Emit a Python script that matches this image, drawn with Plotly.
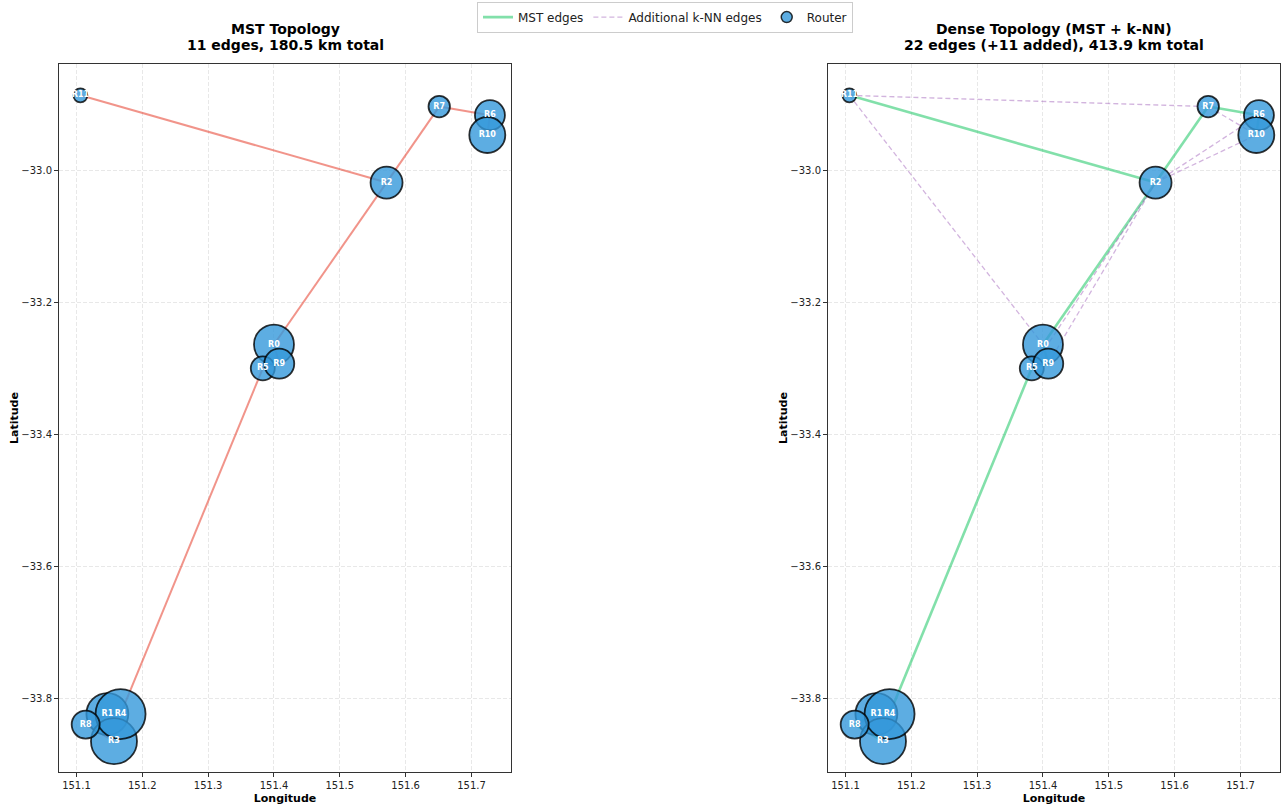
import math
import plotly.graph_objects as go

# Router sites (longitude / latitude) and relative load per router
router_names = ["R0", "R1", "R2", "R3", "R4", "R5", "R6", "R7", "R8", "R9", "R10", "R11"]
router_lon = [151.400, 151.147, 151.571, 151.157, 151.167, 151.383, 151.728, 151.651,
              151.114, 151.408, 151.724, 151.106]
router_lat = [-33.264, -33.823, -33.019, -33.864, -33.823, -33.300, -32.917, -32.904,
              -33.839, -33.293, -32.947, -32.887]
router_load = [400, 440, 256, 530, 625, 144, 225, 115, 196, 225, 324, 49]

# Minimum spanning tree edges (router index pairs)
mst_edges = [(1, 4), (5, 9), (6, 10), (0, 9), (1, 8), (3, 8), (7, 6), (2, 7), (0, 2),
             (11, 2), (5, 4)]
# Extra edges added by the k-nearest-neighbour pass
knn_edges = [(0, 5), (1, 3), (2, 10), (2, 6), (3, 4), (4, 8), (5, 2), (7, 10), (9, 2),
             (11, 7), (11, 0)]

mst_title = ["MST Topology", "11 edges, 180.5 km total"]
dense_title = ["Dense Topology (MST + k-NN)", "22 edges (+11 added), 413.9 km total"]

FONT = "DejaVu Sans"
X_RANGE = [151.0735, 151.760]
Y_RANGE = [-33.9107, -32.8396]
FIG_W, FIG_H = 1285, 810

NODE_FILL = "rgba(52,152,219,0.8)"
NODE_EDGE = "rgba(0,0,0,0.8)"


def edge_xy(edges):
    xs, ys = [], []
    for a, b in edges:
        xs += [router_lon[a], router_lon[b], None]
        ys += [router_lat[a], router_lat[b], None]
    return xs, ys


fig = go.Figure()


def add_edges(edges, axis, name, color, width, dash, show):
    xs, ys = edge_xy(edges)
    fig.add_trace(go.Scatter(
        x=xs, y=ys, mode="lines", name=name, showlegend=show,
        line=dict(color=color, width=width, dash=dash),
        xaxis="x" + axis, yaxis="y" + axis, hoverinfo="skip"))


def add_routers(axis):
    # one marker per router so later routers overlap earlier ones
    for i, name in enumerate(router_names):
        diam = 2 * math.sqrt(router_load[i])
        fig.add_trace(go.Scatter(
            x=[router_lon[i]], y=[router_lat[i]], mode="markers",
            name=name, showlegend=False,
            marker=dict(size=diam, color=NODE_FILL,
                        line=dict(color=NODE_EDGE, width=1.8)),
            xaxis="x" + axis, yaxis="y" + axis))
    # labels on top of all markers
    fig.add_trace(go.Scatter(
        x=router_lon, y=router_lat, mode="text",
        text=["<b>" + n + "</b>" for n in router_names], showlegend=False,
        textfont=dict(family=FONT, size=8, color="white"),
        xaxis="x" + axis, yaxis="y" + axis, hoverinfo="skip"))


# Left: MST only
add_edges(mst_edges, "", "MST", "rgba(231,76,60,0.6)", 2, "solid", False)
add_routers("")

# Right: MST plus k-NN additions
add_edges(mst_edges, "2", "MST edges", "rgba(46,204,113,0.6)", 2.6, "solid", True)
add_edges(knn_edges, "2", "Additional k-NN edges", "rgba(155,89,182,0.45)", 1.3, "5px,3px", True)
add_routers("2")

# legend entry for routers
fig.add_trace(go.Scatter(
    x=[None], y=[None], mode="markers", name="Router", showlegend=True,
    marker=dict(size=11, color=NODE_FILL, line=dict(color=NODE_EDGE, width=1.5)),
    xaxis="x2", yaxis="y2"))

left_dom = [59 / FIG_W, 511 / FIG_W]
right_dom = [828 / FIG_W, 1280 / FIG_W]
y_dom = [1 - 772 / FIG_H, 1 - 64 / FIG_H]

axis_common = dict(
    showline=True, linecolor="#333333", linewidth=1, mirror=True,
    ticks="outside", ticklen=4, tickcolor="#333333",
    showgrid=True, gridcolor="rgba(0,0,0,0.09)", griddash="4px,2px", gridwidth=1,
    zeroline=False, tickfont=dict(family=FONT, size=10, color="#222"),
    automargin=False,
)
xcommon = dict(axis_common, range=X_RANGE, tick0=151.1, dtick=0.1, tickformat=".1f",
               title=dict(text="<b>Longitude</b>", standoff=4,
                          font=dict(family=FONT, size=11, color="black")))
ycommon = dict(axis_common, range=Y_RANGE, tick0=-33.0, dtick=0.2, tickformat=".1f",
               title=dict(text="<b>Latitude</b>", standoff=0,
                          font=dict(family=FONT, size=11, color="black")))


def title_annotations(lines, dom):
    anns = []
    for k, line in enumerate(lines):
        anns.append(dict(text="<b>" + line + "</b>",
                         x=(dom[0] + dom[1]) / 2, y=1 - (29 + 16 * k) / FIG_H,
                         xref="paper", yref="paper", xanchor="center", yanchor="middle",
                         showarrow=False, font=dict(family=FONT, size=14, color="black")))
    return anns


fig.update_layout(
    width=FIG_W, height=FIG_H,
    margin=dict(l=0, r=0, t=0, b=0),
    paper_bgcolor="white", plot_bgcolor="white",
    font=dict(family=FONT, color="#222"),
    xaxis=dict(xcommon, domain=left_dom, anchor="y"),
    yaxis=dict(ycommon, domain=y_dom, anchor="x"),
    xaxis2=dict(xcommon, domain=right_dom, anchor="y2"),
    yaxis2=dict(ycommon, domain=y_dom, anchor="x2"),
    legend=dict(orientation="h", x=477 / FIG_W, xanchor="left", y=0.998, yanchor="top",
                bordercolor="#cccccc", borderwidth=1, bgcolor="white",
                font=dict(family=FONT, size=12, color="#222")),
    showlegend=True,
    annotations=title_annotations(mst_title, left_dom) + title_annotations(dense_title, right_dom),
)

fig.write_html("out.html")
